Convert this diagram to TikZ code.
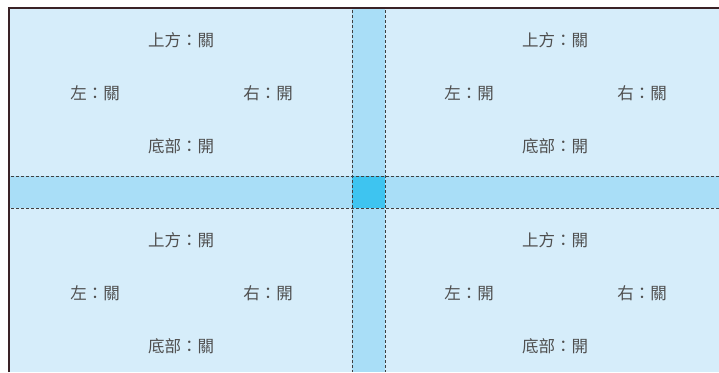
\documentclass[tikz,border=0pt]{standalone}
\usepackage{fontspec}
\newfontfamily\tcfont{Noto Sans CJK TC}
\usetikzlibrary{positioning}
\definecolor{frame}{HTML}{3A2226}
\definecolor{pane}{HTML}{D6EDFA}
\definecolor{band}{HTML}{A9DEF7}
\definecolor{hub}{HTML}{3EC4F0}
\definecolor{txt}{HTML}{4F4F4F}
\tikzset{lab/.style={font=\tcfont\fontsize{16.5}{16.5}\selectfont,text=txt,inner sep=0pt},
  seam/.style={draw=black!75,line width=1pt,dash pattern=on 3pt off 2pt},
  edge/.style={draw=frame,line width=2.4pt}}
% one quadrant of labels: prefix, top, left, right, bottom
\newcommand{\panel}[5]{%
\node[lab] (#1top) at (181,40) {#2};
\node[lab] (#1left) at (95,93) {#3};
\node[lab] (#1right) at (268,93) {#4};
\node[lab] (#1bot) at (181,146) {#5};}

\begin{document}
\begin{tikzpicture}[x=1pt,y=-1pt]
\useasboundingbox (0,0) rectangle (719,372);
\fill[white] (0,0) rectangle (719,372);
\fill[pane] (10,9) rectangle (719,372);
\fill[band] (352,9) rectangle (385,372);
\fill[band] (10,176) rectangle (719,208);
\fill[hub] (352,176) rectangle (385,208);
\draw[seam] (352,10)--(352,372) (385,10)--(385,372);
\draw[seam] (11,176)--(719,176) (11,208)--(719,208);
\draw[edge] (9.2,372)--(9.2,8.2)--(719,8.2);
\panel{a}{上方：關}{左：關}{右：開}{底部：開}
\begin{scope}[xshift=374pt]
\panel{b}{上方：關}{左：開}{右：關}{底部：開}
\end{scope}
\begin{scope}[yshift=-200pt]
\panel{c}{上方：開}{左：關}{右：開}{底部：關}
\end{scope}
\begin{scope}[xshift=374pt,yshift=-200pt]
\panel{d}{上方：開}{左：開}{右：關}{底部：開}
\end{scope}
\end{tikzpicture}
\end{document}
